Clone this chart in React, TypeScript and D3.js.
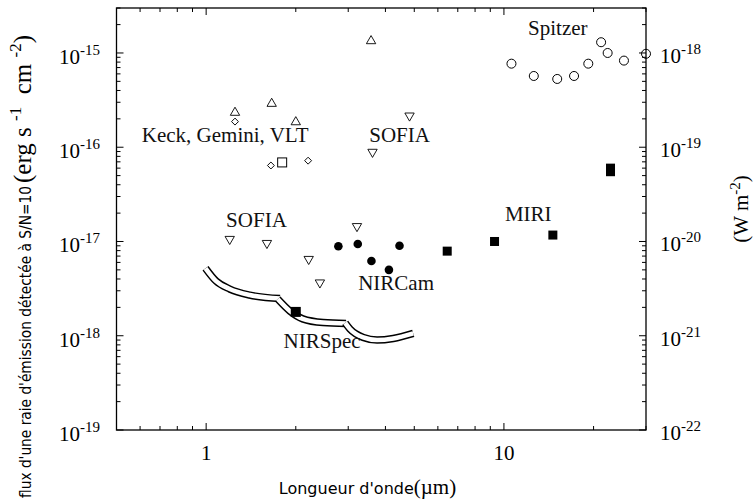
import React from 'react';
import * as d3 from 'd3';

// wavelength in µm, line flux in erg s-1 cm-2 (S/N = 10)
const spitzerWave = [10.6, 12.6, 15.1, 17.2, 19.2, 21.2, 22.3, 25.3, 30];
const spitzerFlux = [7.7e-16, 5.7e-16, 5.3e-16, 5.7e-16, 7.7e-16, 1.3e-15, 1.0e-15, 8.3e-16, 9.8e-16];

const miriWave = [6.45, 9.3, 14.6, 22.8, 22.8];
const miriFlux = [7.9e-18, 1.0e-17, 1.17e-17, 6.0e-17, 5.5e-17];

const nircamWave = [2.78, 3.23, 3.59, 4.11, 4.46];
const nircamFlux = [8.9e-18, 9.4e-18, 6.2e-18, 5.0e-18, 9.0e-18];

const sofiaWave = [1.2, 1.6, 2.21, 2.41, 3.21, 3.62, 4.82];
const sofiaFlux = [1.06e-17, 9.6e-18, 6.5e-18, 3.66e-18, 1.45e-17, 8.9e-17, 2.16e-16];

const groundTriWave = [1.25, 1.66, 2.0, 3.58];
const groundTriFlux = [2.33e-16, 2.9e-16, 1.85e-16, 1.34e-15];

const groundDiamondWave = [1.25, 1.65, 2.2];
const groundDiamondFlux = [1.87e-16, 6.4e-17, 7.2e-17];

const groundSquareWave = [1.8];
const groundSquareFlux = [6.9e-17];

const nirspecPointWave = [2.0];
const nirspecPointFlux = [1.79e-18];

// NIRSpec sensitivity curves, three gratings
const nirspecBand1Wave = [0.995, 1.08, 1.2, 1.4, 1.77];
const nirspecBand1Flux = [5.2e-18, 3.8e-18, 3.13e-18, 2.7e-18, 2.48e-18];
const nirspecBand2Wave = [1.74, 1.91, 2.11, 2.47, 2.95];
const nirspecBand2Flux = [2.45e-18, 1.83e-18, 1.51e-18, 1.38e-18, 1.35e-18];
const nirspecBand3Wave = [2.93, 3.04, 3.37, 3.75, 4.25, 4.96];
const nirspecBand3Flux = [1.37e-18, 1.18e-18, 9.6e-19, 9.0e-19, 9.35e-19, 1.06e-18];

// instrument labels, anchored (left, baseline) in data units
const labelText = ['Spitzer', 'Keck, Gemini, VLT', 'SOFIA', 'SOFIA', 'NIRCam', 'MIRI', 'NIRSpec'];
const labelWave = [12.05, 0.608, 3.53, 1.167, 3.24, 10.08, 1.82];
const labelFlux = [1.55e-15, 1.15e-16, 1.15e-16, 1.42e-17, 3.06e-18, 1.65e-17, 7.41e-19];

const W = 753, H = 504;
const left = 116.5, right = 646, top = 8, bottom = 430;
const serif = '"Liberation Serif", "Times New Roman", serif';
const sans = '"DejaVu Sans", sans-serif';

const x = d3.scaleLog().domain([0.5, 30]).range([left, right]);
const y = d3.scaleLog().domain([1e-19, 3e-15]).range([bottom, top]);

const zip = (w: number[], f: number[]) => w.map((v, i) => [v, f[i]] as [number, number]);

const isMajor = (v: number) => Math.abs(Math.log10(v) - Math.round(Math.log10(v))) < 1e-6;

export default function App() {
    const xTicks = x.ticks();
    const yTicks = y.ticks();
    const band = d3.line<[number, number]>()
        .x(d => x(d[0]))
        .y(d => y(d[1]))
        .curve(d3.curveMonotoneX);
    const bands = [
        zip(nirspecBand1Wave, nirspecBand1Flux),
        zip(nirspecBand2Wave, nirspecBand2Flux),
        zip(nirspecBand3Wave, nirspecBand3Flux),
    ];
    const tri = d3.symbol().type(d3.symbolTriangle).size(38)()!;
    const sq = d3.symbol().type(d3.symbolSquare).size(24)()!;

    return (
        <svg width={W} height={H} style={{ position: 'absolute', left: 0, top: 0, background: '#fff' }}>
            <rect x={left} y={top} width={right - left} height={bottom - top}
                fill="none" stroke="#000" strokeWidth={1.3} />

            {/* x ticks, bottom and top */}
            {xTicks.map((t, i) => {
                const len = isMajor(t) ? 7 : 4;
                return (
                    <g key={'xt' + i} stroke="#000" strokeWidth={1}>
                        <line x1={x(t)} x2={x(t)} y1={bottom} y2={bottom - len} />
                        <line x1={x(t)} x2={x(t)} y1={top} y2={top + len} />
                    </g>
                );
            })}
            {xTicks.filter(isMajor).map((t, i) => (
                <text key={'xl' + i} x={x(t)} y={460} textAnchor="middle"
                    fontFamily={serif} fontSize={21}>{t}</text>
            ))}

            {/* y ticks, left and right */}
            {yTicks.map((t, i) => {
                const len = isMajor(t) ? 7 : 4;
                return (
                    <g key={'yt' + i} stroke="#000" strokeWidth={1}>
                        <line x1={left} x2={left + len} y1={y(t)} y2={y(t)} />
                        <line x1={right} x2={right - len} y1={y(t)} y2={y(t)} />
                    </g>
                );
            })}
            {yTicks.filter(isMajor).map((t, i) => {
                const e = Math.round(Math.log10(t));
                return (
                    <g key={'yl' + i} fontFamily={serif}>
                        <text x={59} y={y(t) + 11} fontSize={21}>
                            10<tspan dy={-9} fontSize={15}>{'-' + Math.abs(e)}</tspan>
                        </text>
                        <text x={660} y={y(t) + 10} fontSize={21}>
                            10<tspan dy={-9} fontSize={15}>{'-' + Math.abs(e - 3)}</tspan>
                        </text>
                    </g>
                );
            })}

            {/* axis titles */}
            <text x={367.5} y={494} textAnchor="middle">
                <tspan fontFamily={sans} fontSize={16}>Longueur d'onde</tspan>
                <tspan fontFamily={serif} fontSize={21}>(µm)</tspan>
            </text>
            <text transform="translate(31,498) rotate(-90)" fontFamily={sans} fontSize={16}
                textLength={312} lengthAdjust="spacingAndGlyphs">flux d'une raie d'émission détectée à S/N=10</text>
            <text transform="translate(31,183) rotate(-90)" fontFamily={serif} fontSize={25}>
                {'(erg s\u00a0'}<tspan dy={-10} fontSize={17}>-1</tspan><tspan dy={10}>{'\u00a0\u00a0cm\u00a0'}</tspan><tspan dy={-10} fontSize={17}>-2</tspan><tspan dy={10}>)</tspan>
            </text>
            <text transform="translate(748,209) rotate(-90)" textAnchor="middle" fontFamily={serif} fontSize={21}>
                (W m<tspan dy={-8} fontSize={15}>-2</tspan><tspan dy={8}>)</tspan>
            </text>

            {/* NIRSpec double-line curves */}
            {bands.map((b, i) => (
                <g key={'band' + i} fill="none">
                    <path d={band(b)!} stroke="#000" strokeWidth={7.5} />
                    <path d={band(b)!} stroke="#fff" strokeWidth={4.6} />
                </g>
            ))}

            {/* Spitzer */}
            {zip(spitzerWave, spitzerFlux).map((d, i) => (
                <circle key={'sp' + i} cx={x(d[0])} cy={y(d[1])} r={4.5} fill="none" stroke="#000" strokeWidth={1} />
            ))}
            {/* MIRI */}
            {zip(miriWave, miriFlux).map((d, i) => (
                <rect key={'mi' + i} x={x(d[0]) - 4.5} y={y(d[1]) - 4.5} width={9} height={9} fill="#000" />
            ))}
            {zip(nirspecPointWave, nirspecPointFlux).map((d, i) => (
                <rect key={'ns' + i} x={x(d[0]) - 5} y={y(d[1]) - 5} width={10} height={10} fill="#000" />
            ))}
            {/* NIRCam */}
            {zip(nircamWave, nircamFlux).map((d, i) => (
                <circle key={'nc' + i} cx={x(d[0])} cy={y(d[1])} r={4.3} fill="#000" />
            ))}
            {/* SOFIA, downward triangles */}
            {zip(sofiaWave, sofiaFlux).map((d, i) => (
                <path key={'so' + i} d={tri} transform={`translate(${x(d[0])},${y(d[1])}) rotate(180)`}
                    fill="none" stroke="#000" strokeWidth={0.9} />
            ))}
            {/* ground-based */}
            {zip(groundTriWave, groundTriFlux).map((d, i) => (
                <path key={'gt' + i} d={tri} transform={`translate(${x(d[0])},${y(d[1])})`}
                    fill="none" stroke="#000" strokeWidth={0.9} />
            ))}
            {zip(groundDiamondWave, groundDiamondFlux).map((d, i) => (
                <path key={'gd' + i} d={sq} transform={`translate(${x(d[0])},${y(d[1])}) rotate(45)`}
                    fill="none" stroke="#000" strokeWidth={0.9} />
            ))}
            {zip(groundSquareWave, groundSquareFlux).map((d, i) => (
                <rect key={'gs' + i} x={x(d[0]) - 4.5} y={y(d[1]) - 4.5} width={9} height={9}
                    fill="none" stroke="#000" strokeWidth={1} />
            ))}

            {/* labels */}
            {labelText.map((t, i) => (
                <text key={'lab' + i} x={x(labelWave[i])} y={y(labelFlux[i])}
                    fontFamily={serif} fontSize={21} fill="#111">{t}</text>
            ))}
        </svg>
    );
}
